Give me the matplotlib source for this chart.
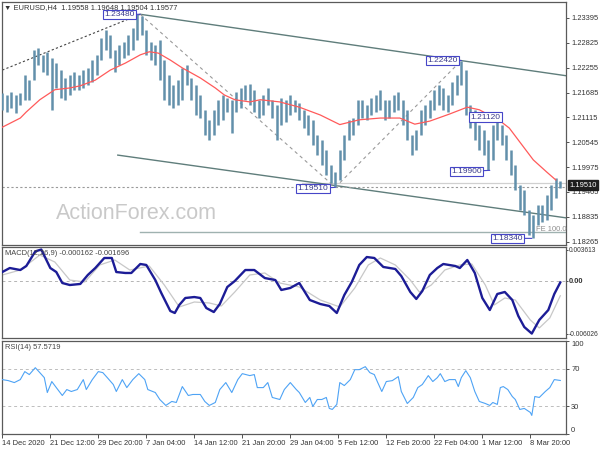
import matplotlib
matplotlib.use('Agg')
import matplotlib.pyplot as plt
import numpy as np

plt.rcParams['font.family'] = ['Liberation Sans', 'DejaVu Sans']

# ---------------- data ----------------
# price bars (one sample every 3 H4 bars)
highs = [1.2167, 1.2163, 1.2170, 1.2163, 1.2167, 1.2209, 1.2197, 1.2266, 1.2271, 1.2255,
         1.2262, 1.2248, 1.2236, 1.2220, 1.2202, 1.2209, 1.2216, 1.2209, 1.2220, 1.2225,
         1.2243, 1.2255, 1.2294, 1.2312, 1.2301, 1.2266, 1.2278, 1.2284, 1.2301, 1.2317,
         1.2348, 1.2345, 1.2312, 1.2284, 1.2278, 1.2289, 1.2243, 1.2209, 1.2186, 1.2197,
         1.2225, 1.2232, 1.2202, 1.2186, 1.2163, 1.2129, 1.2106, 1.2129, 1.2152, 1.2163,
         1.2156, 1.2152, 1.2170, 1.2179, 1.2186, 1.2188, 1.2175, 1.2152, 1.2163, 1.2179,
         1.2152, 1.2140, 1.2156, 1.2152, 1.2163, 1.2152, 1.2145, 1.2129, 1.2117, 1.2106,
         1.2071, 1.2060, 1.2037, 1.2002, 1.1986, 1.2037, 1.2071, 1.2106, 1.2110, 1.2152,
         1.2152, 1.2140, 1.2156, 1.2163, 1.2175, 1.2152, 1.2152, 1.2163, 1.2170, 1.2152,
         1.2129, 1.2071, 1.2083, 1.2129, 1.2140, 1.2152, 1.2175, 1.2186, 1.2179, 1.2163,
         1.2193, 1.2209, 1.2242, 1.2220, 1.2140, 1.2129, 1.2094, 1.2083, 1.2060, 1.2094,
         1.2112, 1.2094, 1.2071, 1.2037, 1.2002, 1.1956, 1.1945, 1.1899, 1.1888, 1.1911,
         1.1911, 1.1933, 1.1956, 1.1972, 1.1965]
lows = [1.2129, 1.2124, 1.2133, 1.2122, 1.2140, 1.2152, 1.2152, 1.2197, 1.2232, 1.2216,
        1.2209, 1.2129, 1.2179, 1.2156, 1.2152, 1.2163, 1.2175, 1.2175, 1.2179, 1.2186,
        1.2193, 1.2209, 1.2243, 1.2266, 1.2248, 1.2216, 1.2232, 1.2248, 1.2255, 1.2266,
        1.2289, 1.2301, 1.2255, 1.2243, 1.2232, 1.2197, 1.2152, 1.2140, 1.2133, 1.2140,
        1.2152, 1.2186, 1.2152, 1.2117, 1.2110, 1.2071, 1.2060, 1.2071, 1.2094, 1.2106,
        1.2124, 1.2076, 1.2124, 1.2133, 1.2152, 1.2140, 1.2124, 1.2110, 1.2117, 1.2140,
        1.2110, 1.2060, 1.2094, 1.2101, 1.2117, 1.2124, 1.2106, 1.2087, 1.2071, 1.2048,
        1.2025, 1.2002, 1.1979, 1.1961, 1.1951, 1.1968, 1.2014, 1.2060, 1.2071, 1.2094,
        1.2110, 1.2106, 1.2117, 1.2124, 1.2129, 1.2106, 1.2110, 1.2124, 1.2129, 1.2094,
        1.2060, 1.2025, 1.2037, 1.2071, 1.2094, 1.2110, 1.2129, 1.2140, 1.2129, 1.2124,
        1.2140, 1.2163, 1.2186, 1.2117, 1.2087, 1.2060, 1.2037, 1.2025, 1.1990, 1.2014,
        1.2060, 1.2048, 1.2014, 1.1979, 1.1945, 1.1899, 1.1888, 1.1842, 1.1834, 1.1865,
        1.1872, 1.1876, 1.1899, 1.1927, 1.1950]

# moving average (red)
ma_bars = [0, 12, 16, 25, 35, 45, 52, 62, 72, 82, 92, 98, 104, 112, 120, 132, 142, 148,
           155, 165, 172, 185, 198, 212, 225, 238, 252, 265, 275, 285, 298, 310, 318,
           332, 338, 345, 354, 363, 369]
ma_vals = [1.2089, 1.2110, 1.2124, 1.2152, 1.2175, 1.2179, 1.2184, 1.2197, 1.2220, 1.2236,
           1.2255, 1.2262, 1.2259, 1.2243, 1.2225, 1.2202, 1.2179, 1.2163, 1.2152, 1.2147,
           1.2152, 1.2147, 1.2135, 1.2117, 1.2095, 1.2106, 1.2110, 1.2110, 1.2096, 1.2103,
           1.2119, 1.2135, 1.2129, 1.2103, 1.2087, 1.2055, 1.2014, 1.1986, 1.1968]

# MACD main line
macd_bars = [0, 5, 12, 16, 22, 26, 32, 36, 40, 45, 52, 57, 62, 68, 73, 76, 82, 86, 92, 96,
             102, 106, 112, 115, 118, 122, 128, 132, 136, 141, 145, 150, 155, 162, 168,
             175, 182, 186, 192, 198, 205, 212, 218, 223, 228, 233, 238, 243, 248, 254,
             262, 266, 272, 276, 280, 285, 290, 294, 302, 305, 310, 315, 320, 325, 330,
             335, 340, 344, 348, 353, 358, 364, 368, 372]
macd_vals = [0.00103, 0.00149, 0.00126, 0.00172, 0.00340, 0.00361, 0.00149, 0.00103,
             -0.00023, -0.00046, -0.00034, 0.00069, 0.00149, 0.00264, 0.00264, 0.00103,
             0.00092, 0.00092, 0.00195, 0.00184, 0.00011, -0.00138, -0.00344, -0.00367,
             -0.00275, -0.00195, -0.00184, -0.00195, -0.00310, -0.00356, -0.00264,
             -0.00069, 0.00000, 0.00126, 0.00126, 0.00034, 0.00011, -0.00103, -0.00080,
             -0.00023, -0.00218, -0.00264, -0.00287, -0.00367, -0.00161, -0.00011,
             0.00184, 0.00275, 0.00264, 0.00161, 0.00138, 0.00057, -0.00126, -0.00206,
             -0.00115, 0.00069, 0.00149, 0.00195, 0.00172, 0.00149, 0.00241, 0.00092,
             -0.00195, -0.00333, -0.00149, -0.00126, -0.00218, -0.00401, -0.00528,
             -0.00603, -0.00447, -0.00333, -0.00149, -0.000162]

# MACD signal line
sig_bars = [0, 12, 25, 35, 45, 55, 65, 75, 85, 98, 108, 118, 128, 138, 146, 155, 165, 175,
            185, 198, 212, 225, 235, 244, 252, 262, 272, 278, 286, 295, 305, 313, 322,
            328, 335, 342, 352, 358, 365, 372]
sig_vals = [0.00069, 0.00126, 0.00298, 0.00218, 0.00011, -0.00011, 0.00184, 0.00241,
            0.00126, 0.00172, -0.00046, -0.00298, -0.00241, -0.00252, -0.00287, -0.00126,
            0.00069, 0.00092, -0.00023, -0.00069, -0.00218, -0.00298, -0.00080, 0.00184,
            0.00264, 0.00184, 0.00011, -0.00126, -0.00046, 0.00126, 0.00184, 0.00195,
            -0.00046, -0.00275, -0.00195, -0.00218, -0.00447, -0.00539, -0.00424, -0.001696]

# RSI(14)
rsi_bars = [0, 4, 8, 12, 15, 18, 22, 25, 28, 30, 33, 36, 40, 43, 46, 50, 54, 56, 60, 64,
            67, 70, 74, 76, 80, 83, 87, 91, 95, 97, 102, 105, 109, 113, 116, 120, 124, 127,
            132, 135, 138, 142, 145, 149, 153, 157, 160, 165, 168, 170, 174, 177, 180, 185,
            188, 192, 196, 198, 202, 205, 207, 210, 213, 216, 218, 220, 223, 225, 228, 232,
            235, 238, 242, 245, 248, 250, 253, 256, 260, 264, 266, 270, 274, 277, 280, 284,
            287, 290, 292, 295, 298, 302, 304, 306, 309, 312, 315, 318, 322, 325, 327, 330,
            332, 334, 337, 340, 342, 345, 348, 352, 353, 355, 358, 362, 365, 368, 372]
rsi_vals = [58.5, 57.4, 55.3, 58.5, 67.1, 63.9, 71.3, 66.0, 60.6, 44.6, 56.4, 49.9, 41.4,
            47.8, 45.7, 47.8, 58.5, 47.8, 58.5, 67.1, 66.0, 60.6, 53.2, 45.7, 58.5, 49.9,
            58.5, 64.9, 58.5, 47.8, 44.6, 37.1, 30.7, 35.0, 33.9, 51.0, 41.4, 42.5, 42.5,
            35.0, 30.7, 33.9, 47.8, 55.3, 44.6, 58.5, 64.9, 62.8, 63.9, 49.9, 49.9, 55.3,
            39.3, 37.1, 47.8, 55.3, 47.8, 44.6, 33.9, 39.3, 29.6, 37.1, 37.1, 39.3, 27.5,
            26.4, 31.8, 55.3, 52.1, 58.5, 69.2, 69.2, 72.4, 66.0, 63.9, 56.4, 45.7, 56.4,
            57.4, 61.7, 45.7, 32.8, 39.3, 49.9, 53.2, 62.8, 56.4, 60.6, 64.9, 56.4, 58.5,
            58.5, 51.0, 60.6, 68.1, 60.6, 45.7, 35.0, 32.8, 30.7, 33.9, 31.8, 49.9, 51.0,
            47.8, 40.3, 37.1, 26.4, 27.5, 23.2, 20.0, 40.3, 39.3, 45.7, 49.9, 58.5, 57.57]

# swing pivots (bar index, price, label)
piv_bars = [92, 222, 306, 330, 325, 353]
piv_prices = [1.2348, 1.1951, 1.2242, 1.2112, 1.1990, 1.1834]
piv_labels = ['1.23480', '1.19510', '1.22420', '1.21120', '1.19900', '1.18340']

main_ticks = [1.23395, 1.22825, 1.22255, 1.21685, 1.21115, 1.20545, 1.19975, 1.19405,
              1.18835, 1.18265]
macd_ticks = [0.003613, 0.0, -0.006026]
macd_tick_labels = ['0.003613', '0.00', '-0.006026']
rsi_levels = [100, 70, 30, 0]

x_tick_bars = [0, 32, 64, 96, 128, 160, 192, 224, 256, 288, 320, 352]
x_tick_labels = ['14 Dec 2020', '21 Dec 12:00', '29 Dec 20:00', '7 Jan 04:00',
                 '14 Jan 12:00', '21 Jan 20:00', '29 Jan 04:00', '5 Feb 12:00',
                 '12 Feb 20:00', '22 Feb 04:00', '1 Mar 12:00', '8 Mar 20:00']

# trend lines (bar, price) endpoints
upper_ch = ([92, 376], [1.2348, 1.2207])
lower_ch = ([77, 376], [1.2025, 1.1881])
dot_trend = ([0, 92], [1.2220, 1.2348])
fe_level = 1.1849
hline_level = 1.1951

# ---------------- figure ----------------
W, H = 600, 450
fig = plt.figure(figsize=(6, 4.5), dpi=100)
fig.patch.set_facecolor('white')


def ax_px(x0, y0, x1, y1):
    return fig.add_axes([x0 / W, 1 - y1 / H, (x1 - x0) / W, (y1 - y0) / H])


ax = ax_px(2, 2, 566, 245)
axm = ax_px(2, 247, 566, 338)
axr = ax_px(2, 341, 566, 434)

XL = (-0.2, 375.8)
FS = 5.4
spine_c = '#5a5a5a'
for a in (ax, axm, axr):
    a.set_xlim(*XL)
    for s in a.spines.values():
        s.set_color(spine_c)
        s.set_linewidth(0.9)
    a.yaxis.tick_right()
    a.tick_params(axis='y', direction='out', length=2.5, width=0.6, colors='#333333',
                  labelsize=FS, pad=1.2)
    a.tick_params(axis='x', bottom=False, labelbottom=False)

# ---- main panel ----
ax.set_ylim(1.18188, 1.23762)
bar_x = np.arange(len(highs)) * 3
ax.vlines(bar_x, lows, highs, color='#6290ab', lw=1.8, zorder=3)
ax.plot(ma_bars, ma_vals, color='#ff5a5a', lw=0.9, zorder=4)

# trend lines
ax.plot(*upper_ch, color='#5f7d7b', lw=1.0, zorder=2)
ax.plot(*lower_ch, color='#5f7d7b', lw=1.0, zorder=2)
ax.plot(*dot_trend, color='#444444', lw=0.8, ls=(0, (2, 2)), zorder=2)
ax.plot([piv_bars[0], piv_bars[1]], [piv_prices[0], piv_prices[1]], color='#9a9a9a',
        lw=0.8, ls=(0, (3, 3)), zorder=2)
ax.plot([piv_bars[1], piv_bars[2]], [piv_prices[1], piv_prices[2]], color='#9a9a9a',
        lw=0.8, ls=(0, (3, 3)), zorder=2)
ax.axhline(hline_level, color='#9a9a9a', lw=0.8, ls=(0, (2, 2)), zorder=2)
ax.plot([200, 376], [1.1960, 1.1960], color='#d0d0d0', lw=0.9, zorder=1)
ax.plot([92, 376], [fe_level, fe_level], color='#9fb2b0', lw=1.0, zorder=2)
ax.text(356, fe_level + 0.0006, 'FE 100.0', fontsize=FS, color='#8c8c8c',
        ha='left', va='center', zorder=5)

# pivot labels
offs = [(-6, 0), (-7, -1), (-4, 0), (3, 0), (-8, -1), (-9, 0)]
for b, p, lab, (dx, dy) in zip(piv_bars, piv_prices, piv_labels, offs):
    ax.annotate(lab, xy=(b, p), xytext=(dx, dy), textcoords='offset pixels',
                ha='right', va='center', fontsize=6.0, color='#3a3a8c',
                bbox=dict(boxstyle='square,pad=0.15', fc='white', ec='#4646c8', lw=0.8),
                arrowprops=dict(arrowstyle='-', color='#4646c8', lw=0.8,
                                shrinkA=0, shrinkB=0),
                zorder=6)

ax.set_yticks(main_ticks)
ax.set_yticklabels(['%.5f' % v for v in main_ticks])

# current price box
ax.annotate('1.19510', xy=(1.0, 1.1956), xycoords=('axes fraction', 'data'),
            xytext=(3, 0), textcoords='offset pixels', ha='left', va='center',
            fontsize=FS, color='white',
            bbox=dict(boxstyle='square,pad=0.2', fc='#1e1e1e', ec='#1e1e1e'),
            annotation_clip=False, zorder=10)

ax.text(0.238, 0.13, 'ActionForex.com', transform=ax.transAxes, fontsize=15.5,
        color='#c9c9c9', ha='center', va='center', zorder=1)

fig.text(4 / W, 1 - 8 / H, '\u25bc EURUSD,H4  1.19558 1.19648 1.19504 1.19577',
         fontsize=FS, color='#333333', ha='left', va='center')

# ---- MACD panel ----
axm.set_ylim(-0.00654, 0.003901)
axm.plot(sig_bars, sig_vals, color='#c8c8c8', lw=0.9, zorder=2)
axm.plot(macd_bars, macd_vals, color='#1c1c96', lw=1.7, zorder=3)
axm.axhline(0, color='#b4b4b4', lw=0.7, ls=(0, (3, 3)), zorder=1)
axm.set_yticks(macd_ticks)
axm.set_yticklabels(macd_tick_labels)
axm.tick_params(axis='y', labelsize=4.8, length=1.5, pad=0.8)
for t in axm.get_yticklabels():
    if t.get_text() == '0.00':
        t.set_fontweight('bold')
        t.set_fontsize(5.4)
axm.text(0.006, 0.93, 'MACD(12,26,9) -0.000162 -0.001696', transform=axm.transAxes,
         fontsize=FS, color='#444444', ha='left', va='center')

# ---- RSI panel ----
axr.set_ylim(0, 100)
axr.plot(rsi_bars, rsi_vals, color='#4ea3f5', lw=0.8, zorder=3)
for lv in (70, 30):
    axr.axhline(lv, color='#bdbdbd', lw=0.7, ls=(0, (3, 3)), zorder=1)
axr.set_yticks(rsi_levels)
axr.set_yticklabels([str(v) for v in rsi_levels])
labs = axr.get_yticklabels()
labs[0].set_va('top')
labs[-1].set_va('bottom')
axr.text(0.006, 0.93, 'RSI(14) 57.5719', transform=axr.transAxes,
         fontsize=FS, color='#444444', ha='left', va='center')

axr.tick_params(axis='x', bottom=True, labelbottom=True, direction='out', length=3,
                width=0.6, colors='#333333', labelsize=FS, pad=1.5)
axr.set_xticks(x_tick_bars)
axr.set_xticklabels(x_tick_labels, ha='left')

fig.savefig('out.png', dpi=100, facecolor='white')
